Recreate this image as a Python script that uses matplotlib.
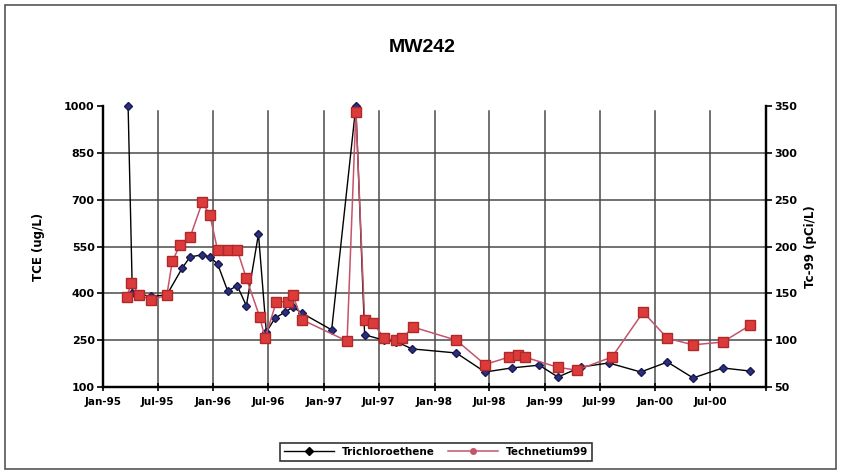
import matplotlib
matplotlib.use("Agg")
import matplotlib.pyplot as plt
from matplotlib.lines import Line2D
from matplotlib.patches import Rectangle
import datetime as dt

plt.rcParams['font.family'] = ['DejaVu Sans']

title = "MW242"
tce_label = "Trichloroethene"
tc_label = "Technetium99"

tce_dates = ["1995-03-25", "1995-04-08", "1995-06-10", "1995-07-31", "1995-09-20",
             "1995-10-16", "1995-11-25", "1995-12-20", "1996-01-15", "1996-02-17",
             "1996-03-20", "1996-04-19", "1996-05-29", "1996-06-24", "1996-07-23",
             "1996-08-25", "1996-09-20", "1996-10-19", "1997-01-26", "1997-04-16",
             "1997-05-15", "1997-07-19", "1997-08-28", "1997-10-19", "1998-03-14",
             "1998-06-17", "1998-09-13", "1998-12-13", "1999-02-13", "1999-05-01",
             "1999-07-31", "1999-11-14", "2000-02-10", "2000-05-05", "2000-08-11",
             "2000-11-10"]
tce_values = [1000, 401, 390, 395, 481,
              517, 523, 517, 494, 408,
              424, 360, 590, 276, 321,
              340, 356, 337, 283, 1000,
              267, 250, 245, 222, 209,
              148, 161, 170, 132, 164,
              177, 148, 180, 129, 161,
              151]

tc_dates = ["1995-03-20", "1995-04-05", "1995-05-01", "1995-06-10", "1995-07-31",
            "1995-08-18", "1995-09-13", "1995-10-16", "1995-11-25", "1995-12-20",
            "1996-01-15", "1996-02-17", "1996-03-20", "1996-04-19", "1996-06-02",
            "1996-06-20", "1996-07-27", "1996-09-02", "1996-09-20", "1996-10-19",
            "1997-03-18", "1997-04-16", "1997-05-15", "1997-06-13", "1997-07-19",
            "1997-08-28", "1997-09-16", "1997-10-22", "1998-03-14", "1998-06-17",
            "1998-09-05", "1998-10-04", "1998-10-26", "1999-02-13", "1999-04-16",
            "1999-08-11", "1999-11-22", "2000-02-10", "2000-05-05", "2000-08-11",
            "2000-11-10"]
tc_values = [146, 161, 148, 143, 148,
             184, 202, 210, 247, 234,
             196, 196, 196, 166, 125,
             102, 141, 141, 148, 122,
             99, 344, 122, 118, 102,
             100, 102, 114, 100, 74,
             82, 84, 82, 71, 68,
             82, 130, 102, 95, 98,
             116]

x_tick_dates = ["1995-01-01", "1995-07-01", "1996-01-01", "1996-07-01", "1997-01-01",
                "1997-07-01", "1998-01-01", "1998-07-01", "1999-01-01", "1999-07-01",
                "2000-01-01", "2000-07-01", "2001-01-01"]
x_tick_labels = ["Jan-95", "Jul-95", "Jan-96", "Jul-96", "Jan-97", "Jul-97", "Jan-98",
                 "Jul-98", "Jan-99", "Jul-99", "Jan-00", "Jul-00", ""]
left_ticks = [100, 250, 400, 550, 700, 850, 1000]
right_ticks = [50, 100, 150, 200, 250, 300, 350]

def to_dt(s):
    return dt.datetime.strptime(s, "%Y-%m-%d")

W, H = 843, 473
fig = plt.figure(figsize=(W / 100, H / 100), dpi=100)
ax = fig.add_axes([103 / W, 1 - 387 / H, (766 - 103) / W, (387 - 106) / H])
ax2 = ax.twinx()

xt = [to_dt(s) for s in x_tick_dates]
ax.set_xlim(xt[0], xt[-1])
ax.set_ylim(100, 1000)
ax2.set_ylim(50, 350)

grid_c = '#4a4a4a'
for v in left_ticks[1:-1]:
    ax.axhline(v, color=grid_c, lw=1.1, zorder=0)
for d in xt[1:-1]:
    ax.plot([d, d], [100, 985], color=grid_c, lw=1.1, zorder=0)

ax.plot([to_dt(s) for s in tce_dates], tce_values, color='black', lw=1.0,
        marker='D', markersize=4.5, markerfacecolor='#2b2f80', markeredgecolor='#1a1a50',
        zorder=3, clip_on=False)
ax2.plot([to_dt(s) for s in tc_dates], tc_values, color='#c4546a', lw=1.1,
         marker='s', markersize=7, markerfacecolor='#dc3b3b', markeredgecolor='#b02828',
         zorder=4, clip_on=False)

ax.set_xticks(xt)
ax.set_xticklabels(x_tick_labels)
ax.set_yticks(left_ticks)
ax.set_yticklabels([str(v) for v in left_ticks])
ax2.set_yticks(right_ticks)
ax2.set_yticklabels([str(v) for v in right_ticks])

for a in (ax, ax2):
    a.spines['top'].set_visible(False)
    for sp in ('left', 'right', 'bottom'):
        a.spines[sp].set_linewidth(1.6)
        a.spines[sp].set_color('black')
    a.tick_params(labelsize=8, width=1.2, length=4)
    for lbl in a.get_xticklabels() + a.get_yticklabels():
        lbl.set_fontweight('bold')
ax.tick_params(axis='x', direction='inout', length=6, pad=4, labelsize=7.5)
ax.tick_params(axis='y', direction='out', pad=2)
ax2.tick_params(axis='y', direction='out', pad=2)

ax.set_ylabel("TCE (ug/L)", fontsize=8.5, fontweight='bold', labelpad=14)
ax2.set_ylabel("Tc-99 (pCi/L)", fontsize=8.5, fontweight='bold', rotation=90, labelpad=5)

fig.text(422 / W, 1 - 48 / H, title, ha='center', va='center', fontsize=14,
         fontweight='bold', family=['Liberation Sans', 'DejaVu Sans'])

handles = [Line2D([], [], color='black', lw=1.0, marker='D', markersize=4,
                  markerfacecolor='black', markeredgecolor='black'),
           Line2D([], [], color='#c4546a', lw=1.1, marker='o', markersize=4,
                  markerfacecolor='#c4546a', markeredgecolor='#c4546a')]
leg = fig.legend(handles, [tce_label, tc_label], loc='center',
                 bbox_to_anchor=(436 / W, 1 - 452 / H), ncol=2, frameon=True,
                 fancybox=False, edgecolor='black', fontsize=7.5, handlelength=4.8,
                 columnspacing=1.2, borderpad=0.4)
leg.get_frame().set_linewidth(1.2)
for t in leg.get_texts():
    t.set_fontweight('bold')

fig.patches.append(Rectangle((5 / W, 4 / H), (836 - 5) / W, (468 - 4) / H,
                             transform=fig.transFigure, fill=False,
                             edgecolor='#555555', lw=1.2))

fig.savefig("out.png", dpi=100)
